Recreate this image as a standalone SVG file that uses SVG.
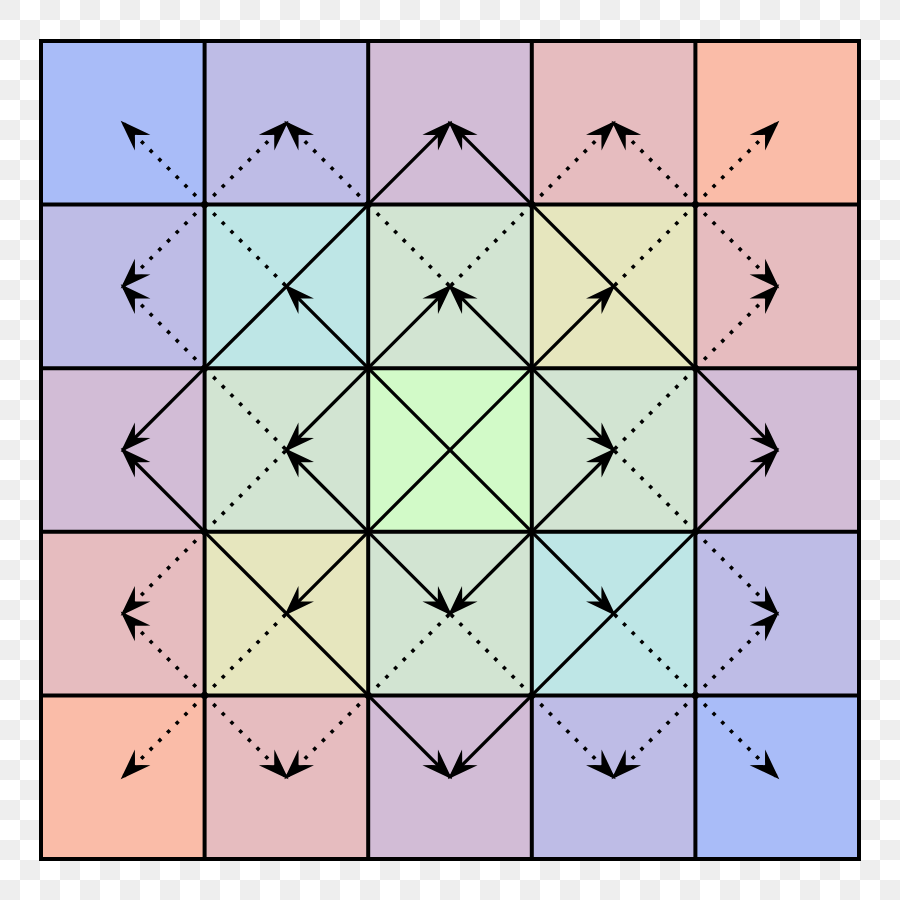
<svg xmlns="http://www.w3.org/2000/svg" width="900" height="900" viewBox="0 0 900 900">
<defs>
<pattern id="checker" x="0" y="0" width="40" height="40" patternUnits="userSpaceOnUse">
<rect width="40" height="40" fill="#ffffff"/>
<rect x="0" y="0" width="20" height="20" fill="#eeeeee"/>
<rect x="20" y="20" width="20" height="20" fill="#eeeeee"/>
</pattern>
<marker id="ah" markerUnits="userSpaceOnUse" viewBox="-36 -13 40 26" markerWidth="40" markerHeight="26" refX="-3" refY="0" orient="auto">
<path d="M0,0 L-31,-11 Q-24,-3.5 -20,0 Q-24,3.5 -31,11 Z" fill="#000"/>
</marker>
<style>
.cell{stroke:none}
.blue{fill:#a9bcf8}.lav{fill:#bebce6}.mauve{fill:#d2bcd6}.pink{fill:#e6bcbf}.salmon{fill:#fabca8}
.cyan{fill:#bee6e6}.gg{fill:#d2e4d2}.khaki{fill:#e6e6be}.green{fill:#d2fac8}
.grid{fill:none;stroke:#000;stroke-width:4;stroke-linecap:square}
.s{fill:none;stroke:#000;stroke-width:3.3}
.d{fill:none;stroke:#000;stroke-width:3.6;stroke-dasharray:3.6 8.7}
.a{marker-end:url(#ah)}
</style>
</defs>
<rect width="900" height="900" fill="url(#checker)"/>
<g id="cells">
<g id="cell-0-0"><rect class="cell blue" x="41" y="41" width="163.6" height="163.6"/></g>
<g id="cell-1-0"><rect class="cell lav" x="204.6" y="41" width="163.6" height="163.6"/></g>
<g id="cell-2-0"><rect class="cell mauve" x="368.2" y="41" width="163.6" height="163.6"/></g>
<g id="cell-3-0"><rect class="cell pink" x="531.8" y="41" width="163.6" height="163.6"/></g>
<g id="cell-4-0"><rect class="cell salmon" x="695.4" y="41" width="163.6" height="163.6"/></g>
<g id="cell-0-1"><rect class="cell lav" x="41" y="204.6" width="163.6" height="163.6"/></g>
<g id="cell-1-1"><rect class="cell cyan" x="204.6" y="204.6" width="163.6" height="163.6"/></g>
<g id="cell-2-1"><rect class="cell gg" x="368.2" y="204.6" width="163.6" height="163.6"/></g>
<g id="cell-3-1"><rect class="cell khaki" x="531.8" y="204.6" width="163.6" height="163.6"/></g>
<g id="cell-4-1"><rect class="cell pink" x="695.4" y="204.6" width="163.6" height="163.6"/></g>
<g id="cell-0-2"><rect class="cell mauve" x="41" y="368.2" width="163.6" height="163.6"/></g>
<g id="cell-1-2"><rect class="cell gg" x="204.6" y="368.2" width="163.6" height="163.6"/></g>
<g id="cell-2-2"><rect class="cell green" x="368.2" y="368.2" width="163.6" height="163.6"/></g>
<g id="cell-3-2"><rect class="cell gg" x="531.8" y="368.2" width="163.6" height="163.6"/></g>
<g id="cell-4-2"><rect class="cell mauve" x="695.4" y="368.2" width="163.6" height="163.6"/></g>
<g id="cell-0-3"><rect class="cell pink" x="41" y="531.8" width="163.6" height="163.6"/></g>
<g id="cell-1-3"><rect class="cell khaki" x="204.6" y="531.8" width="163.6" height="163.6"/></g>
<g id="cell-2-3"><rect class="cell gg" x="368.2" y="531.8" width="163.6" height="163.6"/></g>
<g id="cell-3-3"><rect class="cell cyan" x="531.8" y="531.8" width="163.6" height="163.6"/></g>
<g id="cell-4-3"><rect class="cell lav" x="695.4" y="531.8" width="163.6" height="163.6"/></g>
<g id="cell-0-4"><rect class="cell salmon" x="41" y="695.4" width="163.6" height="163.6"/></g>
<g id="cell-1-4"><rect class="cell pink" x="204.6" y="695.4" width="163.6" height="163.6"/></g>
<g id="cell-2-4"><rect class="cell mauve" x="368.2" y="695.4" width="163.6" height="163.6"/></g>
<g id="cell-3-4"><rect class="cell lav" x="531.8" y="695.4" width="163.6" height="163.6"/></g>
<g id="cell-4-4"><rect class="cell blue" x="695.4" y="695.4" width="163.6" height="163.6"/></g>
</g>
<g id="grid">
<path class="grid" d="M41,41H859V859H41Z M204.6,41V859 M368.2,41V859 M531.8,41V859 M695.4,41V859 M41,204.6H859 M41,368.2H859 M41,531.8H859 M41,695.4H859"/>
</g>
<g id="connectors">
<path class="s" d="M204.6,368.2L368.2,204.6"/>
<path class="s" d="M531.8,204.6L695.4,368.2"/>
<path class="s" d="M204.6,531.8L368.2,695.4"/>
<path class="s" d="M531.8,695.4L695.4,531.8"/>
<path class="s" d="M368.2,368.2L531.8,531.8"/>
<path class="s" d="M531.8,368.2L368.2,531.8"/>
<path class="d" d="M204.6,204.6L286.4,286.4"/>
<path class="d" d="M368.2,204.6L450,286.4"/>
<path class="d" d="M531.8,204.6L450,286.4"/>
<path class="d" d="M695.4,204.6L613.6,286.4"/>
<path class="d" d="M204.6,368.2L286.4,450"/>
<path class="d" d="M204.6,531.8L286.4,450"/>
<path class="d" d="M695.4,368.2L613.6,450"/>
<path class="d" d="M695.4,531.8L613.6,450"/>
<path class="d" d="M204.6,695.4L286.4,613.6"/>
<path class="d" d="M368.2,695.4L450,613.6"/>
<path class="d" d="M531.8,695.4L450,613.6"/>
<path class="d" d="M695.4,695.4L613.6,613.6"/>
<path class="d a" d="M204.6,204.6L122.8,122.8"/>
<path class="d a" d="M204.6,204.6L286.4,122.8"/>
<path class="d a" d="M368.2,204.6L286.4,122.8"/>
<path class="d a" d="M531.8,204.6L613.6,122.8"/>
<path class="d a" d="M695.4,204.6L613.6,122.8"/>
<path class="d a" d="M695.4,204.6L777.2,122.8"/>
<path class="d a" d="M204.6,204.6L122.8,286.4"/>
<path class="d a" d="M204.6,368.2L122.8,286.4"/>
<path class="d a" d="M695.4,204.6L777.2,286.4"/>
<path class="d a" d="M695.4,368.2L777.2,286.4"/>
<path class="d a" d="M204.6,531.8L122.8,613.6"/>
<path class="d a" d="M204.6,695.4L122.8,613.6"/>
<path class="d a" d="M695.4,531.8L777.2,613.6"/>
<path class="d a" d="M695.4,695.4L777.2,613.6"/>
<path class="d a" d="M204.6,695.4L122.8,777.2"/>
<path class="d a" d="M204.6,695.4L286.4,777.2"/>
<path class="d a" d="M368.2,695.4L286.4,777.2"/>
<path class="d a" d="M531.8,695.4L613.6,777.2"/>
<path class="d a" d="M695.4,695.4L613.6,777.2"/>
<path class="d a" d="M695.4,695.4L777.2,777.2"/>
<path class="s a" d="M368.2,204.6L450,122.8"/>
<path class="s a" d="M531.8,204.6L450,122.8"/>
<path class="s a" d="M368.2,368.2L450,286.4"/>
<path class="s a" d="M531.8,368.2L450,286.4"/>
<path class="s a" d="M368.2,368.2L286.4,286.4"/>
<path class="s a" d="M531.8,368.2L613.6,286.4"/>
<path class="s a" d="M204.6,368.2L122.8,450"/>
<path class="s a" d="M204.6,531.8L122.8,450"/>
<path class="s a" d="M368.2,368.2L286.4,450"/>
<path class="s a" d="M368.2,531.8L286.4,450"/>
<path class="s a" d="M531.8,368.2L613.6,450"/>
<path class="s a" d="M531.8,531.8L613.6,450"/>
<path class="s a" d="M695.4,368.2L777.2,450"/>
<path class="s a" d="M695.4,531.8L777.2,450"/>
<path class="s a" d="M368.2,531.8L286.4,613.6"/>
<path class="s a" d="M368.2,531.8L450,613.6"/>
<path class="s a" d="M531.8,531.8L450,613.6"/>
<path class="s a" d="M531.8,531.8L613.6,613.6"/>
<path class="s a" d="M368.2,695.4L450,777.2"/>
<path class="s a" d="M531.8,695.4L450,777.2"/>
</g>
</svg>
